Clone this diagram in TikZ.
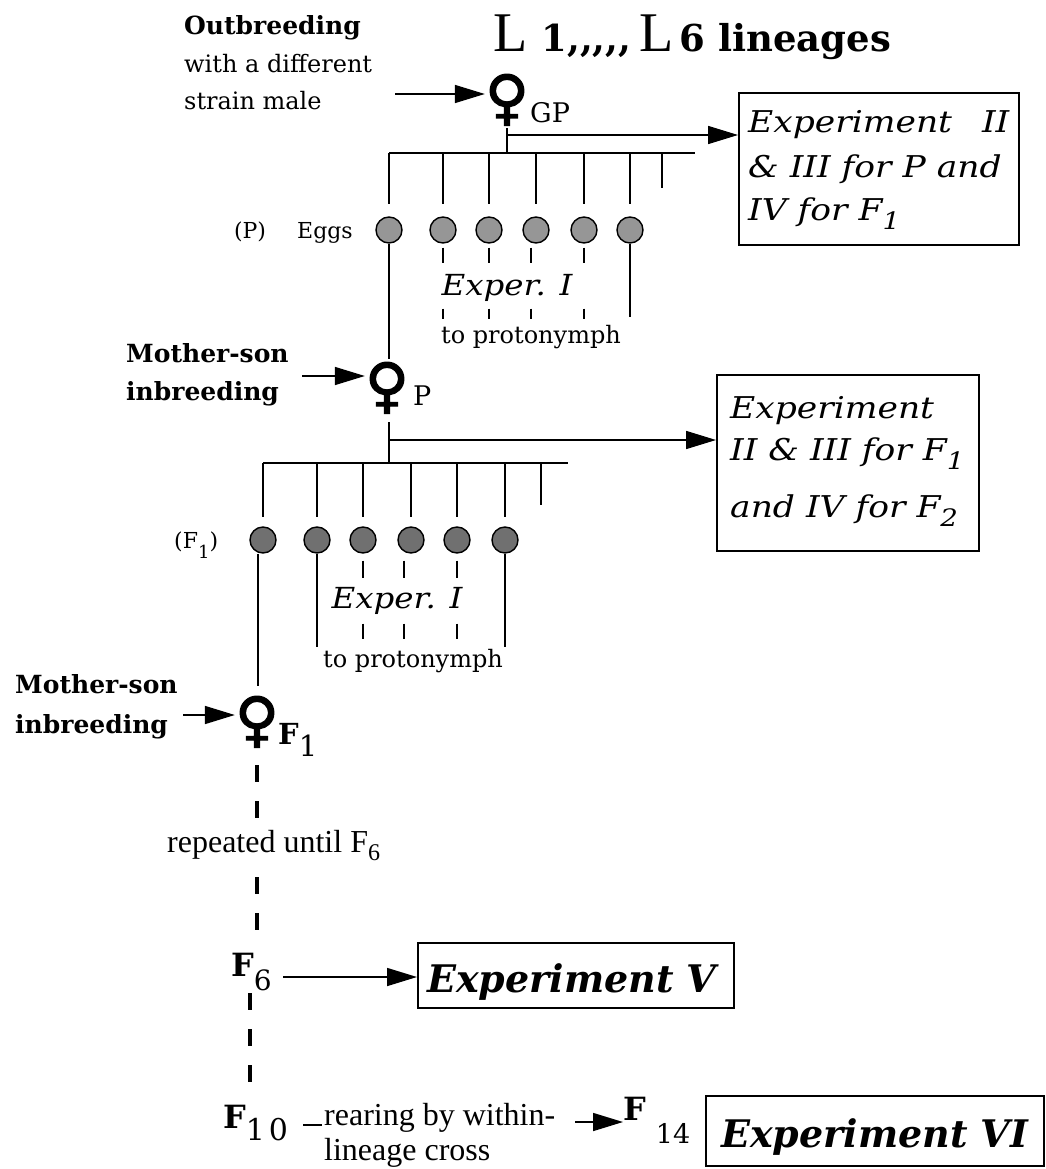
\documentclass[tikz,border=0pt]{standalone}
\usepackage{fontspec}
\setmainfont{DejaVu Serif}
\newfontfamily\tms{Liberation Serif}
\newfontfamily\femfont[FakeBold=2]{DejaVu Sans}
\newfontfamily\xfont[FakeStretch=1.15]{DejaVu Serif}
\newfontfamily\efont[FakeStretch=1.12]{DejaVu Serif}
\usetikzlibrary{arrows.meta}
\definecolor{eggp}{RGB}{150,150,150}
\definecolor{eggf}{RGB}{112,112,112}
\begin{document}
\begin{tikzpicture}[x=1pt,y=-1pt,
 ln/.style={line width=1.4pt},
 arr/.style={line width=1.6pt,-{Triangle[length=30pt,width=18pt]}},
 egg/.style={circle,draw,line width=1.4pt,minimum size=26pt,inner sep=0pt},
 eggP/.style={egg,fill=eggp},
 eggF/.style={egg,fill=eggf},
 thickdash/.style={line width=4pt,dash pattern=on 17pt off 19pt},
 lbl/.style={inner sep=0pt,anchor=base west,font=\fontsize{24}{28}\selectfont},
 slbl/.style={inner sep=0pt,anchor=base west,font=\fontsize{22}{26}\selectfont},
 blbl/.style={inner sep=0pt,anchor=base west,font=\bfseries\fontsize{25}{28}\selectfont},
 flbl/.style={inner sep=0pt,anchor=base west,font=\bfseries\fontsize{32}{34}\selectfont},
 tlbl/.style={inner sep=0pt,anchor=base west,font=\tms\fontsize{32}{34}\selectfont},
 fem/.style={inner sep=0pt,anchor=base,font=\femfont\fontsize{60}{60}\selectfont},
 sub/.style={inner sep=0pt,anchor=base west,font=\fontsize{27}{30}\selectfont},
 xbox/.style={draw,line width=2pt,inner sep=0pt,anchor=north west},
 xtxt/.style={inner sep=0pt,anchor=base west,font=\xfont\itshape\fontsize{30}{34}\selectfont},
 xbtxt/.style={inner sep=0pt,anchor=base west,font=\bfseries\itshape\fontsize{38}{40}\selectfont},
 exper/.style={inner sep=0pt,anchor=base,font=\efont\itshape\fontsize{29}{30}\selectfont},
]
\useasboundingbox[fill=white] (0,0) rectangle (1045,1169);

% title
\node[inner sep=0pt,anchor=base west] (title) at (493,52)
 {{\tms\fontsize{56}{60}\selectfont L}\hspace{14pt}{\bfseries\fontsize{37}{40}\selectfont 1,\kern0pt,\kern0pt,\kern0pt,\kern0pt,}\hspace{8pt}{\tms\fontsize{56}{60}\selectfont L}\hspace{6pt}{\bfseries\fontsize{37}{40}\selectfont 6 lineages}};

% outbreeding
\node[blbl] (outb) at (184,35) {Outbreeding};
\node[lbl] (outb2) at (184,73) {with a different};
\node[lbl] (outb3) at (184,110) {strain male};
\coordinate (oa) at (395,94);
\node[fem] (gp) at (507,118) {♀};
\node[sub] (gpl) at (530,123) {GP};
\draw[arr] (oa) -- (oa -| gp.west);

% boxes
\node[xbox,minimum width=280pt,minimum height=152pt] (e1) at (738,92) {};
\node[xtxt] (e1a) at (748,133) {Experiment\hspace{30pt}II};
\node[xtxt] (e1b) at (748,178) {\& III for P and};
\node[xtxt] (e1c) at (748,220) {IV for F\raisebox{-9pt}{\fontsize{24}{24}\selectfont 1}};

\node[xbox,minimum width=262pt,minimum height=176pt] (e2) at (716,374) {};
\node[xtxt] (e2a) at (730,418) {Experiment};
\node[xtxt] (e2b) at (730,460) {II \& III for F\raisebox{-9pt}{\fontsize{24}{24}\selectfont 1}};
\node[xtxt] (e2c) at (730,517) {and IV for F\raisebox{-9pt}{\fontsize{24}{24}\selectfont 2}};

% P generation
\coordinate (gps) at (507,128);
\coordinate (gpb) at (507,153);
\coordinate (gpr) at (507,135);
\coordinate (b1l) at (389,153);
\coordinate (b1r) at (695,153);
\draw[ln] (gps) -- (gpb);
\draw[ln] (b1l) -- (b1r);
\draw[arr] (gpr) -- (gpr -| e1.west);
\foreach \n/\x in {1/389,2/443,3/489,4/536,5/584,6/630}{
  \node[eggP] (p\n) at (\x,230) {};
  \draw[ln] (p\n |- b1l) -- ([yshift=12pt]p\n.north);
}
\coordinate (pt7) at (662,153);
\coordinate (pt7e) at (662,188);
\draw[ln] (pt7) -- (pt7e);
\node[slbl,anchor=base] (plab) at (250,238) {(P)};
\node[slbl] (eggs) at (297,238) {Eggs};
\foreach \n/\dx in {2/0,3/0,4/-5,5/0}{
  \draw[ln] ([xshift=\dx pt,yshift=-4pt]p\n.south) -- ++(0,15);
  \draw[ln] ([xshift=\dx pt,yshift=-65pt]p\n.south) -- ++(0,10);
}
\coordinate (p6e) at (630,317);
\draw[ln] (p6.south) -- (p6e);
\node[exper] (ex1) at (507,295) {Exper. I};
\node[lbl,anchor=base] (pr1) at (531,343) {to protonymph};

% mother-son 1
\node[blbl] (ms1a) at (126,362) {Mother-son};
\node[blbl] (ms1b) at (126,400) {inbreeding};
\node[fem] (fp) at (387,406) {♀};
\node[sub] (fpl) at (413,405) {P};
\coordinate (ma1) at (302,376);
\draw[arr] (ma1) -- (ma1 -| fp.west);
\draw[ln,shorten >=3pt] (p1.south) -- (p1.south |- fp.north);

% F1 generation
\coordinate (fps) at (389,422);
\coordinate (fpb) at (389,463);
\coordinate (fpr) at (389,440);
\coordinate (b2l) at (263,463);
\coordinate (b2r) at (568,463);
\draw[ln] (fps) -- (fpb);
\draw[ln] (b2l) -- (b2r);
\draw[arr] (fpr) -- (fpr -| e2.west);
\foreach \n/\x in {1/263,2/317,3/363,4/411,5/457,6/505}{
  \node[eggF] (f\n) at (\x,540) {};
  \draw[ln] (f\n |- b2l) -- ([yshift=9pt]f\n.north);
}
\coordinate (ft7) at (541,463);
\coordinate (ft7e) at (541,505);
\draw[ln] (ft7) -- (ft7e);
\node[slbl] (f1lab) at (174,548) {(F\raisebox{-10pt}{\fontsize{18}{18}\selectfont 1})};
\foreach \n/\dx in {3/0,4/-7,5/0}{
  \draw[ln] ([xshift=\dx pt,yshift=-7pt]f\n.south) -- ++(0,17);
  \draw[ln] ([xshift=\dx pt,yshift=-70pt]f\n.south) -- ++(0,15);
}
\coordinate (f2e) at (317,647);
\coordinate (f6e) at (505,647);
\draw[ln] (f2.south) -- (f2e);
\draw[ln] (f6.south) -- (f6e);
\node[exper] (ex2) at (397,608) {Exper. I};
\node[lbl] (pr2) at (323,667) {to protonymph};

% mother-son 2
\node[blbl] (ms2a) at (15,693) {Mother-son};
\node[blbl] (ms2b) at (15,733) {inbreeding};
\node[fem] (ff) at (257,740) {♀};
\node[flbl,font=\bfseries\fontsize{29}{30}\selectfont] (ffl) at (278,744) {F\raisebox{-12pt}{\mdseries 1}};
\coordinate (ma2) at (183,715);
\draw[arr] (ma2) -- (ma2 -| ff.west);
\draw[ln,shorten >=10pt] ([xshift=-5pt]f1.south) -- ([xshift=-5pt]f1.south |- ff.north);

% repeated
\coordinate (d1) at (257,765);
\coordinate (d2) at (257,819);
\coordinate (d3) at (257,877);
\coordinate (d4) at (257,931);
\draw[thickdash] (d1) -- (d2);
\draw[thickdash] (d3) -- (d4);
\node[tlbl] (rep) at (167,852) {repeated until F\raisebox{-8pt}{\fontsize{24}{24}\selectfont 6}};

% F6
\node[flbl] (f6) at (231,976) {F\raisebox{-14pt}{\mdseries\fontsize{28}{28}\selectfont 6}};
\node[xbox,minimum width=316pt,minimum height=65pt] (e5) at (417,942) {};
\node[xbtxt] (e5t) at (427,992) {Experiment V};
\coordinate (fa6) at (283,977);
\draw[arr] (fa6) -- (fa6 -| e5.west);
\coordinate (d5) at (250,993);
\coordinate (d6) at (250,1084);
\draw[thickdash] (d5) -- (d6);

% F10 / F14
\node[flbl] (f10) at (223,1128) {F\raisebox{-12pt}{\mdseries\fontsize{30}{30}\selectfont 1\kern4pt 0}};
\coordinate (r1) at (303,1125);
\coordinate (r2) at (322,1125);
\draw[ln] (r1) -- (r2);
\node[tlbl] (rear1) at (324,1125) {rearing by within-};
\node[tlbl] (rear2) at (324,1160) {lineage cross};
\node[flbl] (f14) at (623,1120) {F\hspace{10pt}\raisebox{-23pt}{\mdseries\fontsize{27}{27}\selectfont 14}};
\coordinate (fa14) at (575,1122);
\draw[arr] (fa14) -- (fa14 -| f14.west);
\node[xbox,minimum width=338pt,minimum height=70pt] (e6) at (705,1095) {};
\node[xbtxt] (e6t) at (721,1147) {Experiment VI};
\end{tikzpicture}
\end{document}
